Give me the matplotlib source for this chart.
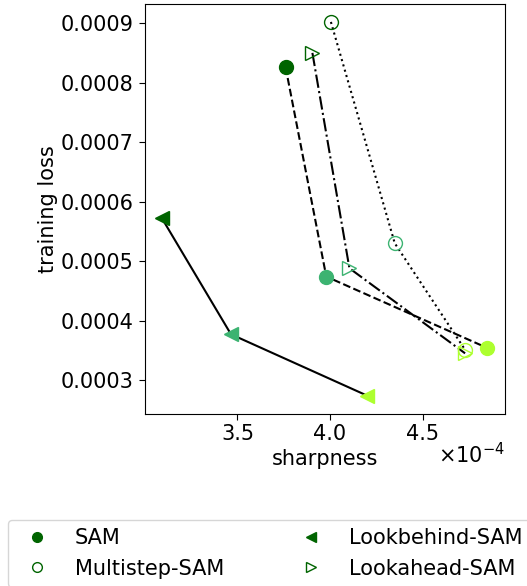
import matplotlib
matplotlib.use("Agg")
import matplotlib.pyplot as plt
from matplotlib.lines import Line2D

colors = ['darkgreen', 'mediumseagreen', 'greenyellow']

sam_x = [3.76, 3.98, 4.85]
sam_y = [0.000826, 0.000474, 0.000354]
multi_x = [4.005, 4.35, 4.73]
multi_y = [0.000902, 0.00053, 0.000351]
behind_x = [3.09, 3.465, 4.20]
behind_y = [0.000573, 0.000377, 0.000274]
ahead_x = [3.905, 4.105, 4.73]
ahead_y = [0.00085, 0.000488, 0.000345]

plt.rcParams['font.size'] = 15
plt.rcParams['xtick.major.size'] = 4
plt.rcParams['ytick.major.size'] = 4
plt.rcParams['ytick.major.pad'] = 4

fig = plt.figure(figsize=(5.27, 5.86), dpi=100)
ax = fig.add_axes([0.275, 0.2935, 0.683, 0.6995])

# lines first, markers on top
ax.plot(sam_x, sam_y, color='black', linestyle='--', zorder=1)
ax.plot(multi_x, multi_y, color='black', linestyle=':', zorder=1)
ax.plot(behind_x, behind_y, color='black', linestyle='-', zorder=1)
ax.plot(ahead_x, ahead_y, color='black', linestyle='-.', zorder=1)

for i in range(3):
	ax.plot(sam_x[i], sam_y[i], 'o', color=colors[i], markersize=10, zorder=2)
	ax.plot(multi_x[i], multi_y[i], 'o', markerfacecolor='none', markeredgecolor=colors[i], markersize=10, zorder=2)
	ax.plot(behind_x[i], behind_y[i], '<', color=colors[i], markersize=10, zorder=2)
	ax.plot(ahead_x[i], ahead_y[i], '>', markerfacecolor='none', markeredgecolor=colors[i], markersize=10, zorder=2)

ax.set_xlim(3.0, 4.945)
ax.set_ylim(0.000243, 0.000932)
ax.set_xticks([3.5, 4.0, 4.5])
ax.set_yticks([0.0003, 0.0004, 0.0005, 0.0006, 0.0007, 0.0008, 0.0009])
ax.set_yticklabels(['0.0003', '0.0004', '0.0005', '0.0006', '0.0007', '0.0008', '0.0009'])
ax.set_xticklabels(['3.5', '4.0', '4.5'])
ax.set_xlabel('sharpness', labelpad=3)
ax.set_ylabel('training loss', labelpad=2)
ax.text(1.0, -0.068, r'$\times10^{-4}$', transform=ax.transAxes, ha='right', va='top')

handles = [
	Line2D([], [], linestyle='', marker='o', color='darkgreen', markersize=7),
	Line2D([], [], linestyle='', marker='o', markerfacecolor='none', markeredgecolor='darkgreen', markersize=7),
	Line2D([], [], linestyle='', marker='<', color='darkgreen', markersize=7),
	Line2D([], [], linestyle='', marker='>', markerfacecolor='none', markeredgecolor='darkgreen', markersize=7),
]
labels = ['SAM', 'Multistep-SAM', 'Lookbehind-SAM', 'Lookahead-SAM']
fig.legend(handles, labels, ncol=2, loc='upper left', bbox_to_anchor=(8 / 527, 1 - 520 / 586),
	columnspacing=3.2, handletextpad=0.8, borderaxespad=0, labelspacing=0.5)

fig.savefig('out.png', dpi=100)
